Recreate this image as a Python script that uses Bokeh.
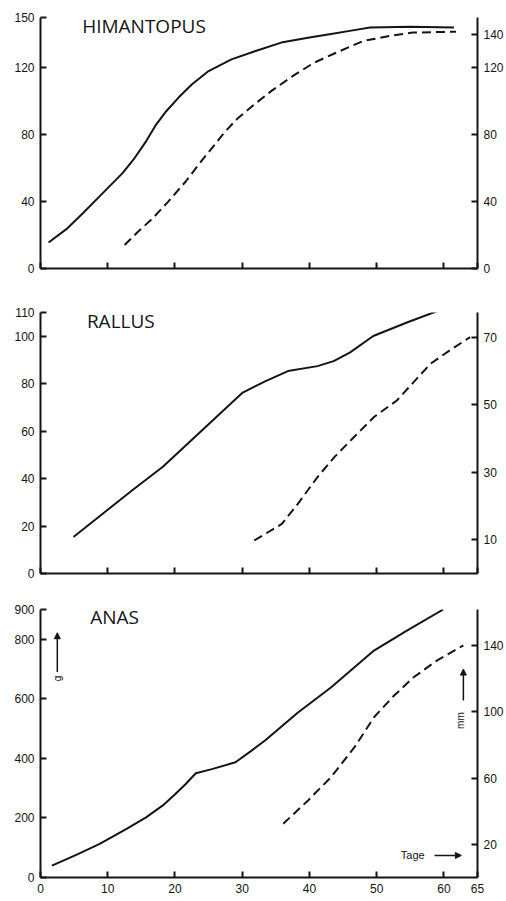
from bokeh.plotting import figure
from bokeh.models import Range1d, LinearAxis, FixedTicker, Label, Arrow, NormalHead
from bokeh.layouts import column
from bokeh.embed import file_html
from bokeh.resources import INLINE

# ---------------- data ----------------
him_solid_day = [1.2, 4, 6.3, 9, 12.2, 14, 15.7, 17.2, 18.7, 20.5, 22.5, 25, 28.4, 32, 35.8, 40, 43, 46, 49, 55, 61.5]
him_solid_val = [15.5, 24, 33, 44, 57, 66, 76, 86, 94, 102, 110, 118, 125, 130, 135, 138, 140, 142, 144, 144.5, 144]
him_dash_day = [12.5, 14.5, 16.7, 19, 21.6, 23.5, 25.5, 27.5, 29.4, 31.8, 34.3, 37.5, 40.7, 44, 48, 52, 55.4, 61.8]
him_dash_val = [14, 22, 30, 40, 52, 62, 72, 82, 90, 98, 106, 115, 123, 129, 136, 139, 141, 141.5]

ral_solid_day = [4.9, 9.3, 13.7, 18.2, 22, 26, 30, 33.4, 36.8, 41.2, 43.6, 46, 49.5, 54.5, 59.4]
ral_solid_val = [15.4, 25.3, 35.2, 45, 55, 65.5, 76.1, 81, 85.3, 87.4, 89.5, 93.1, 100.1, 105.8, 111]
ral_dash_day = [31.8, 35.9, 38.3, 41.2, 43.7, 46.6, 49.6, 53, 58, 60.9, 63.9]
ral_dash_val = [9.8, 14.7, 20.7, 28.6, 34.5, 40.4, 46.4, 51.3, 62.2, 66.2, 70.1]

ana_solid_day = [1.7, 5.4, 8.8, 12.8, 15.7, 18.2, 20.1, 21.6, 23.1, 25.5, 29, 31.4, 33.4, 38.3, 43.2, 49.6, 54.5, 59.9]
ana_solid_val = [40, 77, 113, 163, 202, 242, 281, 314, 350, 364, 387, 426, 460, 554, 638, 762, 829, 900]
ana_dash_day = [36.1, 39.8, 43.2, 46.7, 49.6, 52.6, 55.5, 59, 62.9]
ana_dash_val = [32.4, 46.5, 60.5, 78.6, 96.7, 109.8, 120.8, 131, 140]

x_ticks = [0, 10, 20, 30, 40, 50, 60, 65]
him_left_ticks = [0, 40, 80, 120, 150]
him_right_ticks = [0, 40, 80, 120, 140]
ral_left_ticks = [0, 20, 40, 60, 80, 100, 110]
ral_right_ticks = [10, 30, 50, 70]
ana_left_ticks = [0, 200, 400, 600, 800, 900]
ana_right_ticks = [20, 60, 100, 140]

INK = "#141414"
TICK_FONT = "Liberation Sans"
TITLE_FONT = "Open Sans"


def style_axis(ax, ticks, show_labels=True):
    ax.ticker = FixedTicker(ticks=ticks)
    ax.axis_line_width = 2
    ax.axis_line_color = INK
    ax.major_tick_line_width = 2
    ax.major_tick_line_color = INK
    ax.major_tick_in = 6
    ax.major_tick_out = 0
    ax.minor_tick_line_color = None
    ax.major_label_standoff = 6
    ax.major_label_text_font = TICK_FONT
    ax.major_label_text_color = INK
    ax.major_label_text_font_size = "12px"
    if not show_labels:
        ax.major_label_overrides = {t: "" for t in ticks}


def make_panel(height, top, bottom, left_end, right_end, left_ticks, right_ticks, show_x_labels):
    p = figure(width=506, height=height, output_backend="svg", toolbar_location=None,
               x_range=Range1d(0, 65), y_range=Range1d(0, left_end),
               min_border_left=40, min_border_right=25, min_border_top=top,
               min_border_bottom=bottom)
    p.outline_line_color = None
    p.grid.visible = False
    p.extra_y_ranges = {"r": Range1d(0, right_end)}
    style_axis(p.xaxis[0], x_ticks, show_x_labels)
    style_axis(p.yaxis[0], left_ticks)
    ra = LinearAxis(y_range_name="r")
    style_axis(ra, right_ticks)
    p.add_layout(ra, "right")
    return p


def title(p, x, y, txt):
    p.add_layout(Label(x=x, y=y, text=txt, text_font=TITLE_FONT, text_font_size="19px",
                       text_color=INK, text_baseline="alphabetic"))


p1 = make_panel(290, 17, 22, max(him_left_ticks), max(him_left_ticks), him_left_ticks, him_right_ticks, False)
p1.line(him_solid_day, him_solid_val, line_color=INK, line_width=2)
p1.line(him_dash_day, him_dash_val, line_color=INK, line_width=2, line_dash="9 5")
title(p1, 6.2, 145, "HIMANTOPUS")

p2 = make_panel(300, 22, 17, max(ral_left_ticks), 77.4, ral_left_ticks, ral_right_ticks, False)
p2.line(ral_solid_day, ral_solid_val, line_color=INK, line_width=2)
p2.line(ral_dash_day, ral_dash_val, line_color=INK, line_width=2, line_dash="9 5", y_range_name="r")
title(p2, 6.9, 106.4, "RALLUS")

p3 = make_panel(311, 19, 24, max(ana_left_ticks), 161.7, ana_left_ticks, ana_right_ticks, True)
p3.line(ana_solid_day, ana_solid_val, line_color=INK, line_width=2)
p3.line(ana_dash_day, ana_dash_val, line_color=INK, line_width=2, line_dash="9 5", y_range_name="r")
title(p3, 7.4, 876, "ANAS")

p3.add_layout(Label(x=53.6, y=74, text="Tage", text_font=TICK_FONT, text_font_size="11px",
                    text_color=INK, text_baseline="middle"))
p3.add_layout(Arrow(x_start=58.6, y_start=74, x_end=62.6, y_end=74, line_color=INK, line_width=1.5,
                    end=NormalHead(size=6, fill_color=INK, line_color=INK)))
p3.add_layout(Label(x=62.5, y=527, text="mm", text_font=TICK_FONT, text_font_size="10px",
                    text_color=INK, text_baseline="middle", text_align="center", angle=1.5708))
p3.add_layout(Arrow(x_start=62.9, y_start=594, x_end=62.9, y_end=700, line_color=INK, line_width=1.5,
                    end=NormalHead(size=6, fill_color=INK, line_color=INK)))
p3.add_layout(Label(x=2.5, y=668, text="g", text_font=TICK_FONT, text_font_size="10px",
                    text_color=INK, text_baseline="middle", text_align="center", angle=1.5708))
p3.add_layout(Arrow(x_start=2.5, y_start=690, x_end=2.5, y_end=822, line_color=INK, line_width=1.5,
                    end=NormalHead(size=6, fill_color=INK, line_color=INK)))

layout = column(p1, p2, p3)
open("out.html", "w").write(file_html(layout, INLINE))
